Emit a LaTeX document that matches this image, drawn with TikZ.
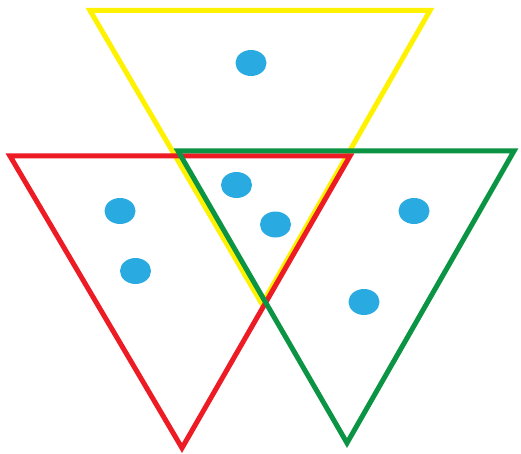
\documentclass[tikz,border=0pt]{standalone}
\usepackage{xcolor}
\usepackage{tikz}
\usetikzlibrary{shapes.geometric}
\definecolor{triyellow}{HTML}{FFF200}
\definecolor{trired}{HTML}{ED1C24}
\definecolor{trigreen}{HTML}{0B9444}
\definecolor{dotblue}{HTML}{29ABE2}

\begin{document}
\begin{tikzpicture}[
  x=1pt, y=-1pt,
  tri/.style={line width=5pt, line join=miter},
  dot/.style={ellipse, fill=dotblue, minimum width=31pt, minimum height=26pt,
              inner sep=0pt}]
\useasboundingbox (0,0) rectangle (521,454);
% triangles (yellow under red under green)
\draw[tri, triyellow] (90,10.5) -- (430,10.5) -- (262,304) -- cycle;
\draw[tri, trired] (10,156) -- (350,156) -- (182,448) -- cycle;
\draw[tri, trigreen] (178,151) -- (514,151) -- (347,443) -- cycle;
% points
\node[dot] (y1) at (251,63) {};
\node[dot] (c1) at (236.5,185) {};
\node[dot] (c2) at (275.5,224.5) {};
\node[dot] (r1) at (120,211) {};
\node[dot] (r2) at (135.5,271) {};
\node[dot] (g1) at (414,211) {};
\node[dot] (g2) at (364,302) {};
\end{tikzpicture}
\end{document}
